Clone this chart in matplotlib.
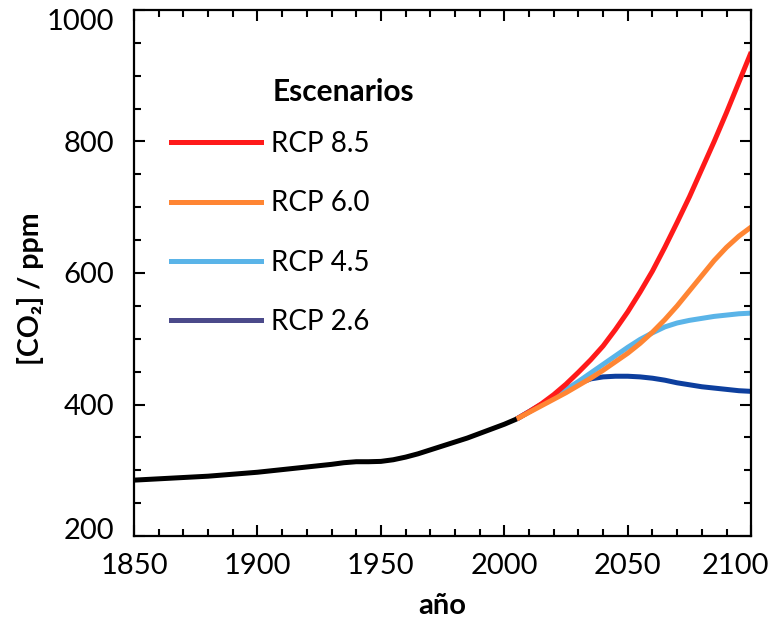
import matplotlib
matplotlib.use('Agg')
import matplotlib.pyplot as plt
import matplotlib.transforms as mtransforms
from matplotlib.lines import Line2D
from matplotlib.ticker import MultipleLocator

plt.rcParams['font.family'] = ['Lato', 'DejaVu Sans']

# historical CO2 (ppm)
hist_years = [1850, 1860, 1870, 1880, 1890, 1900, 1910, 1920, 1930, 1935,
              1940, 1945, 1950, 1955, 1960, 1965, 1970, 1975, 1980, 1985,
              1990, 1995, 2000, 2005]
hist_co2 = [285, 287, 289, 291, 294, 297, 301, 305, 309, 311.5,
            313, 313, 313.5, 316, 320, 325, 331, 337, 343, 349,
            356, 363, 370, 378]

# scenario projections
rcp_years = [2005, 2010, 2015, 2020, 2025, 2030, 2035, 2040, 2045, 2050,
             2055, 2060, 2065, 2070, 2075, 2080, 2085, 2090, 2095, 2100]
rcp85 = [378, 389, 401, 415, 431, 449, 468, 489, 514, 541,
         571, 603, 639, 677, 716, 758, 800, 844, 890, 936]
rcp60 = [378, 388, 398, 408, 418, 429, 440, 452, 465, 478,
         493, 510, 529, 550, 573, 596, 619, 639, 656, 670]
rcp45 = [378, 389, 400, 411, 423, 435, 448, 461, 474, 487,
         499, 509, 518, 524, 528, 531, 534, 536, 538, 539]
rcp26 = [378, 389, 400, 411, 422, 432, 439, 442, 443, 443,
         442, 440, 437, 433, 430, 427, 425, 423, 421, 420]

labels = ['RCP 8.5', 'RCP 6.0', 'RCP 4.5', 'RCP 2.6']
colors = ['#ff1a1a', '#ff8533', '#5ab4e8', '#0d3f9e']
legend_colors = ['#ff1a1a', '#ff8533', '#5ab4e8', '#4b4a8a']

xticks = [1850, 1900, 1950, 2000, 2050, 2100]
yticks = [200, 400, 600, 800, 1000]

fig = plt.figure(figsize=(7.73, 6.23), dpi=100)
ax = fig.add_axes([0.1734, 0.1396, 0.7984, 0.8444])

lw = 3.6
ax.plot(rcp_years, rcp26, color=colors[3], lw=lw, solid_capstyle='butt')
ax.plot(rcp_years, rcp45, color=colors[2], lw=lw, solid_capstyle='butt')
ax.plot(rcp_years, rcp85, color=colors[0], lw=lw, solid_capstyle='butt')
ax.plot(rcp_years, rcp60, color=colors[1], lw=lw, solid_capstyle='butt')
ax.plot(hist_years, hist_co2, color='black', lw=lw, solid_capstyle='butt')

ax.set_xlim(1850, 2100)
ax.set_ylim(200, 1000)
ax.set_xticks(xticks)
ax.set_yticks(yticks)
ax.xaxis.set_minor_locator(MultipleLocator(10))
ax.yaxis.set_minor_locator(MultipleLocator(50))
ax.tick_params(which='both', direction='in', top=True, right=True,
               width=1.5, labelsize=21, colors='black')
ax.tick_params(which='major', length=8)
ax.tick_params(axis='x', which='major', pad=12)
ax.tick_params(axis='y', which='major', pad=14)
ax.tick_params(which='minor', length=5)
for s in ax.spines.values():
    s.set_linewidth(1.6)

# nudge the end labels inwards like the original
xl = ax.get_xticklabels()
xl[-1].set_transform(xl[-1].get_transform() +
                     mtransforms.ScaledTranslation(-0.16, 0, fig.dpi_scale_trans))
yl = ax.get_yticklabels()
yl[0].set_transform(yl[0].get_transform() +
                    mtransforms.ScaledTranslation(0, 0.08, fig.dpi_scale_trans))
yl[-1].set_transform(yl[-1].get_transform() +
                     mtransforms.ScaledTranslation(0, -0.10, fig.dpi_scale_trans))

ax.set_xlabel('año', fontsize=21, fontweight='bold', labelpad=10)
ax.set_ylabel('[CO₂] / ppm', fontsize=20.5, fontweight='bold')
ax.yaxis.set_label_coords(-0.146, 0.47)

handles = [Line2D([0], [0], color=c, lw=lw) for c in legend_colors]
ax.legend(handles, labels, loc='upper left', bbox_to_anchor=(0.06, 0.77),
          frameon=False, fontsize=20, borderpad=0, borderaxespad=0,
          handlelength=3.25, handletextpad=0.36, labelspacing=1.2)
ax.text(0.225, 0.844, 'Escenarios', transform=ax.transAxes, fontsize=21.5,
        fontweight='bold', va='center', ha='left')

fig.savefig('out.png', dpi=100)
